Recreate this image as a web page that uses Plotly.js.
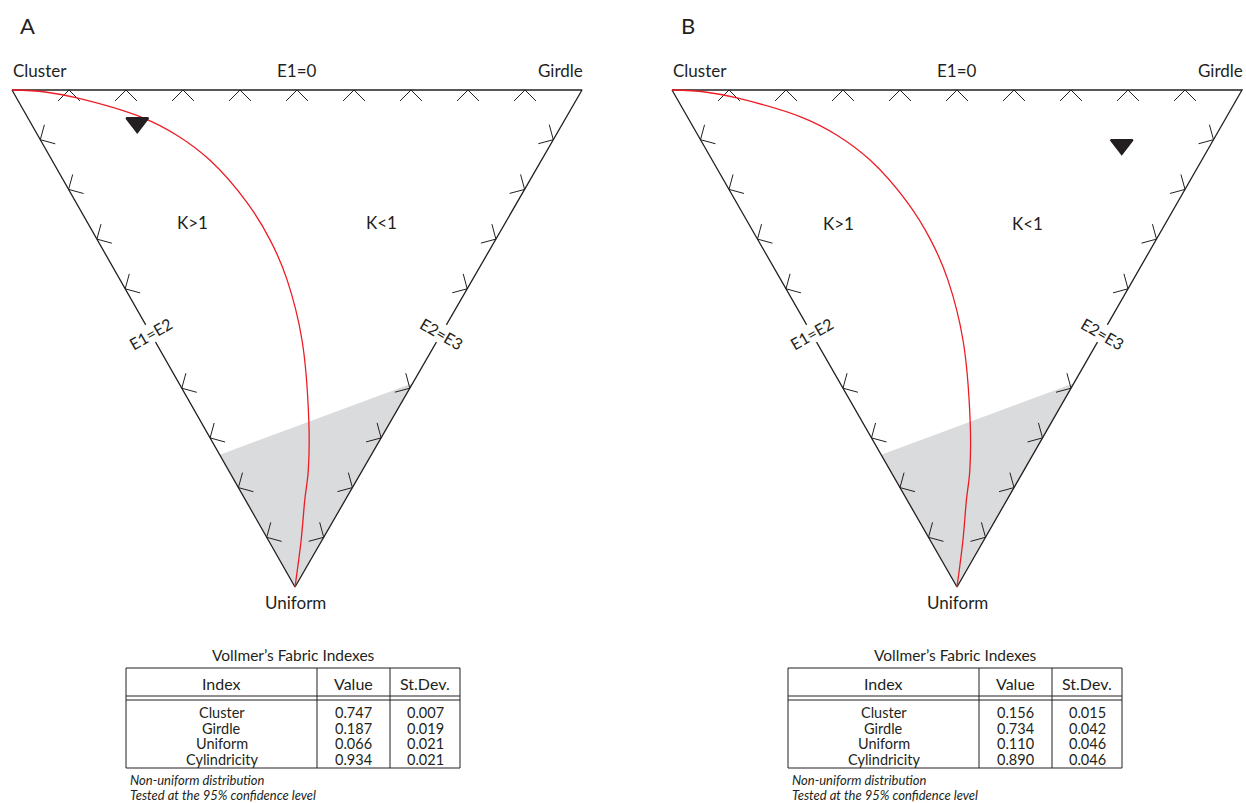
<!DOCTYPE html>
<html>
<head>
<meta charset="utf-8">
<script src="https://cdn.plot.ly/plotly-3.0.1.min.js"></script>
<style>
  html, body { margin: 0; padding: 0; background: #ffffff; }
  #chart { width: 1246px; height: 803px; }
</style>
</head>
<body>
<div id="chart"></div>
<script>
// ---------------- DATA ----------------
const panelLetters = ['A', 'B'];
const vertexNames = ['Cluster', 'Girdle', 'Uniform'];
const edgeLabels = ['E1=0', 'E1=E2', 'E2=E3'];
const regionLabels = ['K>1', 'K<1'];

const tableTitle = "Vollmer\u2019s Fabric Indexes";
const tableHeader = ['Index', 'Value', 'St.Dev.'];
const indexNames = ['Cluster', 'Girdle', 'Uniform', 'Cylindricity'];
const valuesA = [0.747, 0.187, 0.066, 0.934];
const stdevA  = [0.007, 0.019, 0.021, 0.021];
const valuesB = [0.156, 0.734, 0.110, 0.890];
const stdevB  = [0.015, 0.042, 0.046, 0.046];
const footnotes = ['Non-uniform distribution', 'Tested at the 95% confidence level'];

// K = 1 reference curve (ternary Cluster / Girdle / Uniform)
const kLineCluster = [1.000, 0.940, 0.878, 0.742, 0.665, 0.582, 0.473, 0.395, 0.325, 0.238, 0.145, 0.095, 0.071, 0.037, 0.000];
const kLineGirdle  = [0.000, 0.056, 0.106, 0.202, 0.244, 0.277, 0.300, 0.303, 0.293, 0.259, 0.191, 0.140, 0.104, 0.058, 0.000];
const kLineUniform = [0.000, 0.004, 0.016, 0.056, 0.091, 0.141, 0.227, 0.302, 0.382, 0.503, 0.664, 0.765, 0.825, 0.905, 1.000];

// Shaded uniformity region (ternary)
const confCluster = [0.266, 0.000, 0.000];
const confGirdle  = [0.000, 0.410, 0.000];
const confUniform = [0.734, 0.590, 1.000];

// Edge tick positions (fraction along each edge)
const tickFractions = [0.1, 0.2, 0.3, 0.4, 0.5, 0.6, 0.7, 0.8, 0.9];

// ---------------- LAYOUT CONFIG ----------------
const W = 1246, H = 803;
const INK = '#231f20';
const RED = '#ed1c24';
const GRAY = '#dadbdc';
const FONT = 'Lato, "Open Sans", "DejaVu Sans", sans-serif';

const panels = [
  { letter: panelLetters[0], values: valuesA, stdev: stdevA,
    C: [12, 90], G: [582, 90], U: [295, 587], letterPos: [27, 25],
    kPos: [[192, 222], [381, 222]], tableX: 126 },
  { letter: panelLetters[1], values: valuesB, stdev: stdevB,
    C: [672, 90], G: [1242, 90], U: [957, 587], letterPos: [688, 25],
    kPos: [[838, 223], [1027, 223]], tableX: 788 }
];

function tern(pn, p, g, r) {
  return [p * pn.C[0] + g * pn.G[0] + r * pn.U[0],
          p * pn.C[1] + g * pn.G[1] + r * pn.U[1]];
}

const traces = [];
const shapes = [];
const annotations = [];

function ann(x, y, text, opts) {
  annotations.push(Object.assign({
    x: x, y: y, xref: 'x', yref: 'y', text: text, showarrow: false,
    xanchor: 'center', yanchor: 'middle', borderpad: 0,
    font: { family: FONT, size: 17, color: INK }
  }, opts || {}));
}

panels.forEach(function (pn) {
  // shaded region
  const rx = [], ry = [];
  for (let i = 0; i < confCluster.length; i++) {
    const pt = tern(pn, confCluster[i], confGirdle[i], confUniform[i]);
    rx.push(pt[0]); ry.push(pt[1]);
  }
  traces.push({ type: 'scatter', mode: 'lines', x: rx, y: ry, fill: 'toself',
    fillcolor: GRAY, line: { width: 0, color: GRAY }, hoverinfo: 'skip' });

  // triangle outline (vertices Cluster, Girdle, Uniform)
  const vC = tern(pn, 1, 0, 0), vG = tern(pn, 0, 1, 0), vU = tern(pn, 0, 0, 1);
  traces.push({ type: 'scatter', mode: 'lines',
    x: [vC[0], vG[0], vU[0], vC[0]], y: [vC[1], vG[1], vU[1], vC[1]],
    line: { color: INK, width: 1.3 }, hoverinfo: 'skip' });

  // chevron ticks along edges
  const tx = [], ty = [];
  const edges = [[vC, vG, vU, false], [vC, vU, vG, true], [vG, vU, vC, true]];
  const L = 15.5, c45 = Math.SQRT1_2;
  edges.forEach(function (e) {
    const a = e[0], b = e[1], o = e[2];
    const dx = b[0] - a[0], dy = b[1] - a[1];
    const len = Math.hypot(dx, dy);
    const t = [dx / len, dy / len];
    let n = [-t[1], t[0]];
    const mx = (a[0] + b[0]) / 2, my = (a[1] + b[1]) / 2;
    if ((o[0] - mx) * n[0] + (o[1] - my) * n[1] < 0) n = [-n[0], -n[1]];
    tickFractions.forEach(function (f) {
      if (e[3] && Math.abs(f - 0.5) < 1e-9) return;
      const ax = a[0] + f * dx, ay = a[1] + f * dy;
      const p1 = [ax + L * (n[0] * c45 + t[0] * c45), ay + L * (n[1] * c45 + t[1] * c45)];
      const p2 = [ax + L * (n[0] * c45 - t[0] * c45), ay + L * (n[1] * c45 - t[1] * c45)];
      tx.push(p1[0], ax, p2[0], null);
      ty.push(p1[1], ay, p2[1], null);
    });
  });
  traces.push({ type: 'scatter', mode: 'lines', x: tx, y: ty,
    line: { color: INK, width: 1 }, hoverinfo: 'skip', connectgaps: false });

  // K = 1 curve
  const kx = [], ky = [];
  for (let i = 0; i < kLineCluster.length; i++) {
    const pt = tern(pn, kLineCluster[i], kLineGirdle[i], kLineUniform[i]);
    kx.push(pt[0]); ky.push(pt[1]);
  }
  traces.push({ type: 'scatter', mode: 'lines', x: kx, y: ky,
    line: { color: RED, width: 1.3, shape: 'spline', smoothing: 1 }, hoverinfo: 'skip' });

  // data point
  const dp = tern(pn, pn.values[0], pn.values[1], pn.values[2]);
  traces.push({ type: 'scatter', mode: 'markers', x: [dp[0]], y: [dp[1]],
    marker: { symbol: 'triangle-down', size: 19, color: INK, line: { color: INK, width: 2 } },
    hoverinfo: 'skip' });

  // text labels
  ann(pn.letterPos[0], pn.letterPos[1], pn.letter, { font: { family: FONT, size: 22, color: INK } });
  ann(vC[0], 70, vertexNames[0], { xanchor: 'left' });
  ann(vG[0] + 2, 70, vertexNames[1], { xanchor: 'right' });
  ann(vU[0], 602, vertexNames[2]);
  ann((vC[0] + vG[0]) / 2, 70, edgeLabels[0]);
  const yMid = 333;
  const mL = [vC[0] + (yMid - vC[1]) * (vU[0] - vC[0]) / (vU[1] - vC[1]), yMid];
  const mR = [vG[0] + (yMid - vG[1]) * (vU[0] - vG[0]) / (vU[1] - vG[1]), yMid];
  ann(mL[0], mL[1], edgeLabels[1], { textangle: -30, bgcolor: '#ffffff',
    font: { family: FONT, size: 16, color: INK } });
  ann(mR[0], mR[1], edgeLabels[2], { textangle: 30, bgcolor: '#ffffff',
    font: { family: FONT, size: 16, color: INK } });
  ann(pn.kPos[0][0], pn.kPos[0][1], regionLabels[0]);
  ann(pn.kPos[1][0], pn.kPos[1][1], regionLabels[1]);

  // table
  const x0 = pn.tableX, colW = [191, 73, 70];
  const xs = [x0, x0 + colW[0], x0 + colW[0] + colW[1], x0 + colW[0] + colW[1] + colW[2]];
  const top = 668, bot = 768, hl1 = 696, hl2 = 700;
  const lineStyle = { color: INK, width: 1 };
  shapes.push({ type: 'rect', xref: 'x', yref: 'y', x0: xs[0], x1: xs[3], y0: top, y1: bot, line: lineStyle });
  shapes.push({ type: 'line', xref: 'x', yref: 'y', x0: xs[0], x1: xs[3], y0: hl1, y1: hl1, line: lineStyle });
  shapes.push({ type: 'line', xref: 'x', yref: 'y', x0: xs[0], x1: xs[3], y0: hl2, y1: hl2, line: lineStyle });
  shapes.push({ type: 'line', xref: 'x', yref: 'y', x0: xs[1], x1: xs[1], y0: top, y1: bot, line: lineStyle });
  shapes.push({ type: 'line', xref: 'x', yref: 'y', x0: xs[2], x1: xs[2], y0: top, y1: bot, line: lineStyle });

  ann((xs[0] + xs[3]) / 2, 655, tableTitle, { font: { family: FONT, size: 15.5, color: INK } });
  const cx = [(xs[0] + xs[1]) / 2, (xs[1] + xs[2]) / 2, (xs[2] + xs[3]) / 2];
  tableHeader.forEach(function (h, j) {
    ann(cx[j], 683, h, { font: { family: FONT, size: 16, color: INK } });
  });
  const rowY = [712, 728, 743.5, 759];
  indexNames.forEach(function (nm, i) {
    const f = { family: FONT, size: 14.5, color: INK };
    ann(cx[0], rowY[i], nm, { font: f });
    ann(cx[1], rowY[i], pn.values[i].toFixed(3), { font: f });
    ann(cx[2], rowY[i], pn.stdev[i].toFixed(3), { font: f });
  });
  footnotes.forEach(function (t, i) {
    ann(x0 + 3, [780, 795][i], '<i>' + t + '</i>', { xanchor: 'left',
      font: { family: FONT, size: 13, color: INK } });
  });
});

const layout = {
  width: W, height: H,
  margin: { l: 0, r: 0, t: 0, b: 0, pad: 0 },
  paper_bgcolor: '#ffffff', plot_bgcolor: '#ffffff',
  showlegend: false,
  xaxis: { range: [0, W], visible: false, fixedrange: true },
  yaxis: { range: [H, 0], visible: false, fixedrange: true },
  shapes: shapes,
  annotations: annotations,
  hovermode: false
};

Plotly.newPlot('chart', traces, layout, { displayModeBar: false, staticPlot: true });
</script>
</body>
</html>
